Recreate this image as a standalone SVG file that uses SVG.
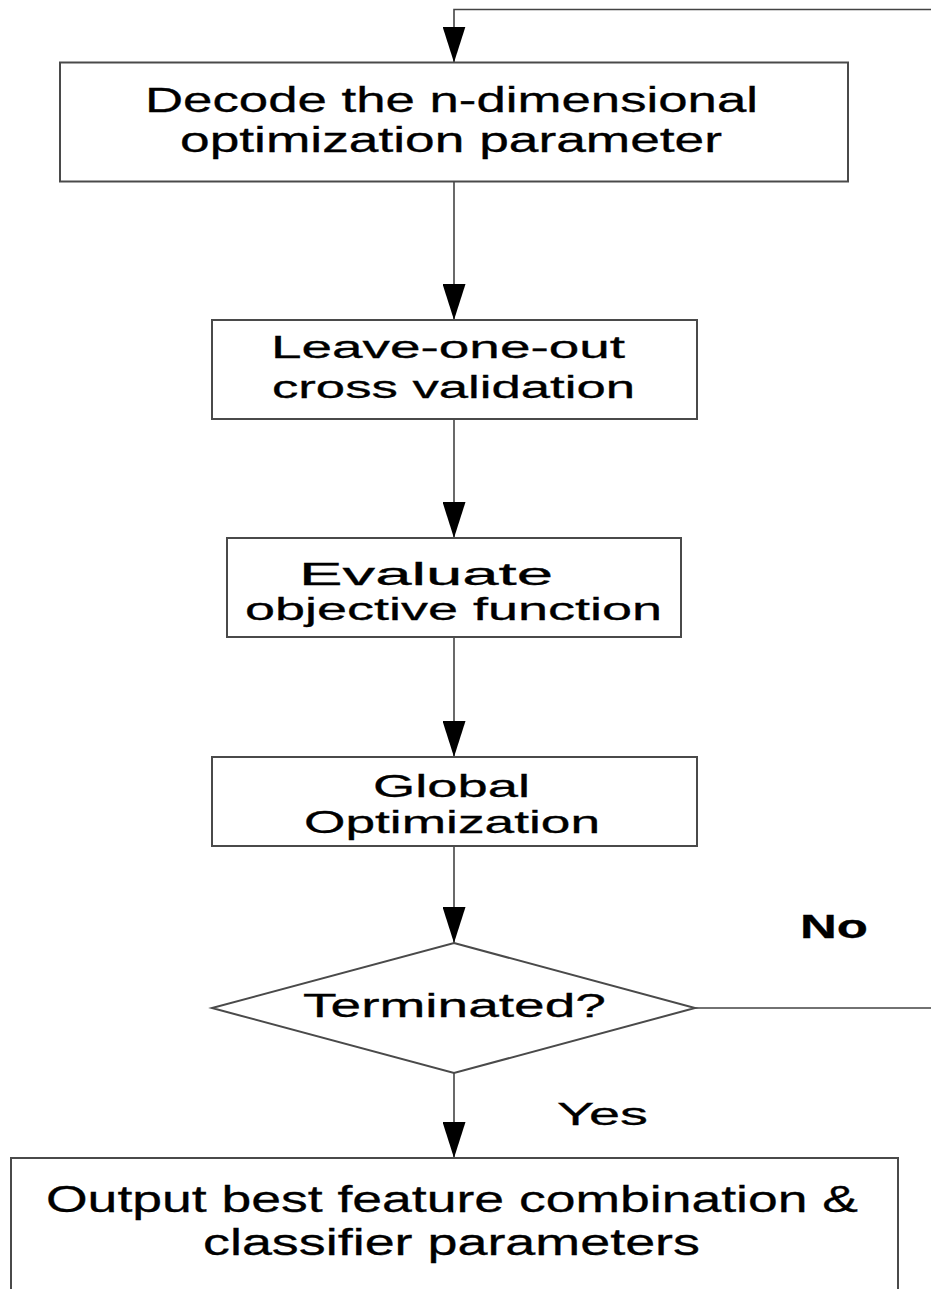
<svg xmlns="http://www.w3.org/2000/svg" width="931" height="1289" viewBox="0 0 931 1289">
  <style>
    .box { fill: #ffffff; stroke: #4a4a4a; stroke-width: 2; }
    .conn { fill: none; stroke: #444444; stroke-width: 1.6; }
    .t { font-family: "Liberation Sans", Arial, sans-serif; fill: #000000; stroke: #000000; stroke-width: 0.3; }
    .b { font-weight: bold; }
  </style>
  <defs>
    <marker id="arrow" markerUnits="userSpaceOnUse" markerWidth="36" markerHeight="23" refX="36" refY="11.5" orient="auto" viewBox="0 0 36 23">
      <path d="M0,0 L36,11.5 L0,23 Z" fill="#000000"/>
    </marker>
  </defs>
  <rect width="931" height="1289" fill="#ffffff"/>

  <g id="connectors">
    <path class="conn" d="M454,181.5 V320" marker-end="url(#arrow)"/>
    <path class="conn" d="M454,419 V538" marker-end="url(#arrow)"/>
    <path class="conn" d="M454,637 V757" marker-end="url(#arrow)"/>
    <path class="conn" d="M454,846 V943" marker-end="url(#arrow)"/>
    <path class="conn" d="M454,1073 V1158" marker-end="url(#arrow)"/>
    <path class="conn" d="M695,1008 H945 V9.5 H454 V62.5" marker-end="url(#arrow)"/>
  </g>

  <g id="decode">
    <rect class="box" x="60" y="62.5" width="788" height="119"/>
    <text class="t" x="145" y="111.5" font-size="35" textLength="613" lengthAdjust="spacingAndGlyphs">Decode the n-dimensional</text>
    <text class="t" x="180" y="152" font-size="35" textLength="542" lengthAdjust="spacingAndGlyphs">optimization parameter</text>
  </g>

  <g id="loocv">
    <rect class="box" x="212" y="320" width="485" height="99"/>
    <text class="t" x="271" y="358" font-size="31" textLength="354" lengthAdjust="spacingAndGlyphs">Leave-one-out</text>
    <text class="t" x="272" y="398" font-size="31" textLength="363" lengthAdjust="spacingAndGlyphs">cross validation</text>
  </g>

  <g id="evaluate">
    <rect class="box" x="227" y="538" width="454" height="99"/>
    <text class="t" x="299" y="585" font-size="32" textLength="254" lengthAdjust="spacingAndGlyphs">Evaluate</text>
    <text class="t" x="245" y="620" font-size="32" textLength="417" lengthAdjust="spacingAndGlyphs">objective function</text>
  </g>

  <g id="global">
    <rect class="box" x="212" y="757" width="485" height="89"/>
    <text class="t" x="373" y="797" font-size="32" textLength="157" lengthAdjust="spacingAndGlyphs">Global</text>
    <text class="t" x="304" y="833" font-size="32" textLength="296" lengthAdjust="spacingAndGlyphs">Optimization</text>
  </g>

  <g id="terminated">
    <polygon class="box" points="454,943 695,1008 454,1073 212,1008" stroke-width="1.6"/>
    <text class="t" x="303" y="1017" font-size="33" textLength="303" lengthAdjust="spacingAndGlyphs">Terminated?</text>
  </g>

  <g id="output">
    <rect class="box" x="11" y="1158" width="887" height="160"/>
    <text class="t" x="46" y="1212" font-size="37" textLength="812" lengthAdjust="spacingAndGlyphs">Output best feature combination &amp;</text>
    <text class="t" x="203" y="1255" font-size="37" textLength="497" lengthAdjust="spacingAndGlyphs">classifier parameters</text>
  </g>

  <g id="labels">
    <text class="t" x="557" y="1125" font-size="32" textLength="91" lengthAdjust="spacingAndGlyphs">Yes</text>
    <text class="t b" x="800" y="938" font-size="34" textLength="68" lengthAdjust="spacingAndGlyphs">No</text>
  </g>
</svg>
